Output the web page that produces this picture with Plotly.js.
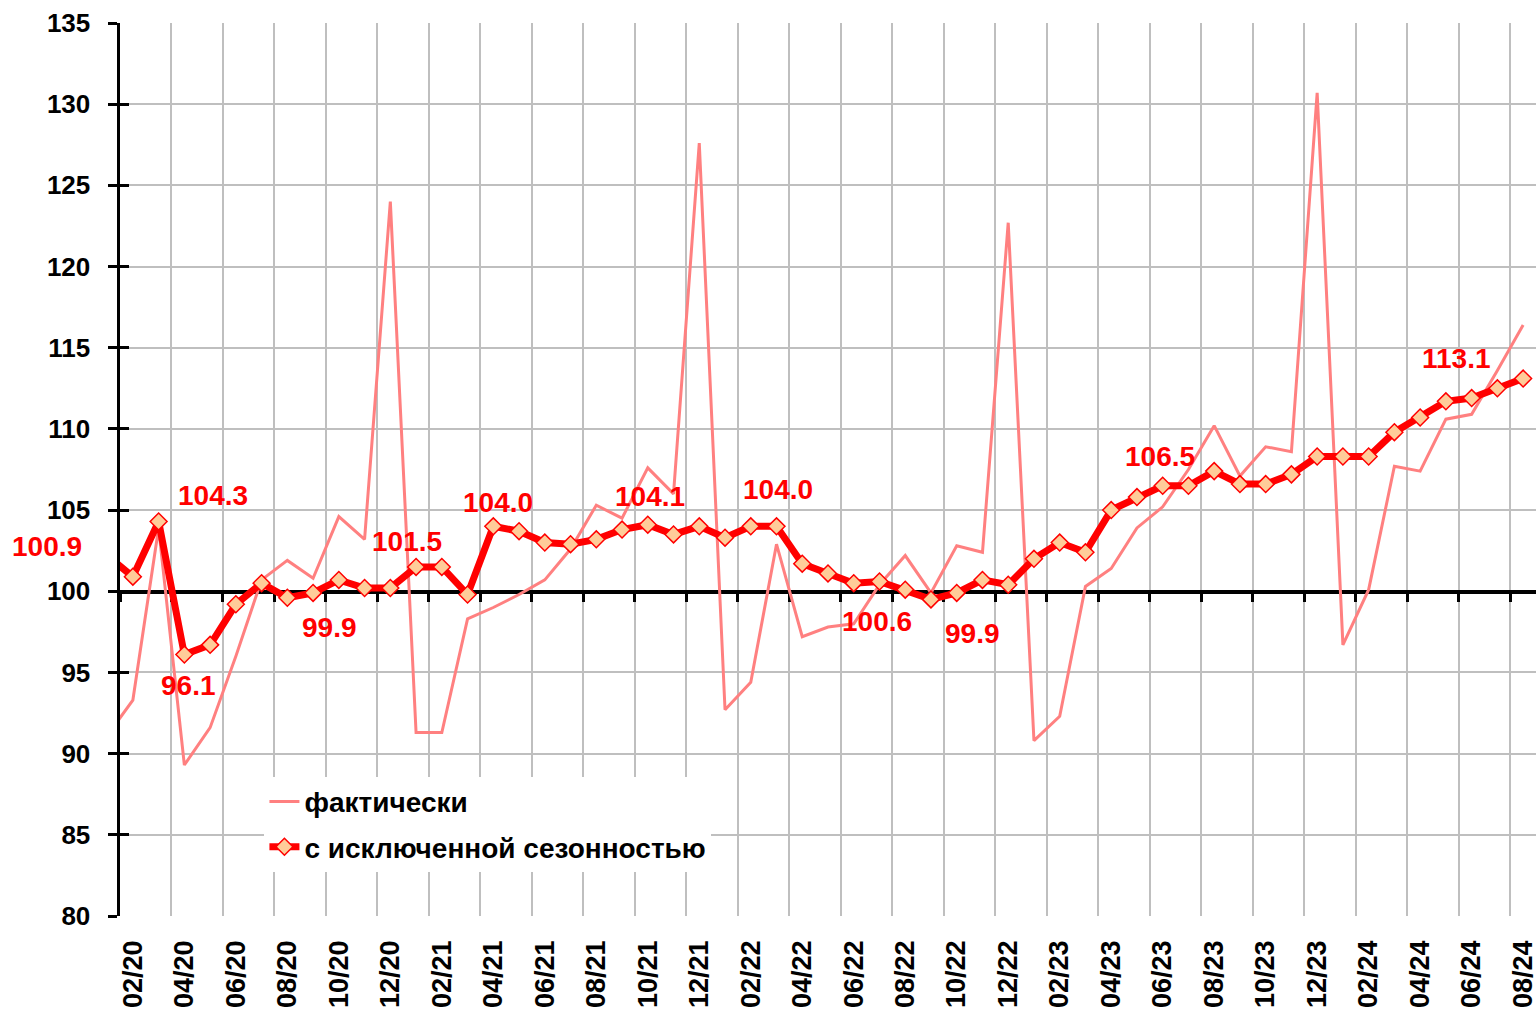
<!DOCTYPE html>
<html><head><meta charset="utf-8">
<script src="https://cdn.plot.ly/plotly-3.0.1.min.js"></script>
<style>html,body{margin:0;padding:0;background:#fff}#chart{width:1540px;height:1010px}</style>
</head><body><div id="chart"></div>
<script>
const months = ['01/20','02/20','03/20','04/20','05/20','06/20','07/20','08/20','09/20','10/20','11/20','12/20',
  '01/21','02/21','03/21','04/21','05/21','06/21','07/21','08/21','09/21','10/21','11/21','12/21',
  '01/22','02/22','03/22','04/22','05/22','06/22','07/22','08/22','09/22','10/22','11/22','12/22',
  '01/23','02/23','03/23','04/23','05/23','06/23','07/23','08/23','09/23','10/23','11/23','12/23',
  '01/24','02/24','03/24','04/24','05/24','06/24','07/24','08/24'];
const actual = [91.1,93.3,103.9,89.3,91.6,96.0,100.7,101.9,100.8,104.6,103.2,124.0,
  91.3,91.3,98.3,99.0,99.8,100.7,102.6,105.3,104.5,107.6,106.0,127.6,
  92.7,94.4,102.9,97.2,97.8,98.0,100.4,102.2,99.9,102.8,102.4,122.7,
  90.8,92.3,100.3,101.4,103.9,105.2,107.5,110.2,107.1,108.9,108.6,130.7,
  96.7,100.1,107.7,107.4,110.6,110.9,113.6,116.4];
const adjusted = [102.2,100.9,104.3,96.1,96.7,99.2,100.5,99.6,99.9,100.7,100.2,100.2,
  101.5,101.5,99.8,104.0,103.7,103.0,102.9,103.2,103.8,104.1,103.5,104.0,
  103.3,104.0,104.0,101.7,101.1,100.5,100.6,100.1,99.5,99.9,100.7,100.4,
  102.0,103.0,102.4,105.0,105.8,106.5,106.5,107.4,106.6,106.6,107.2,108.3,
  108.3,108.3,109.8,110.7,111.7,111.9,112.5,113.1];
const tickLabels = ['02/20','04/20','06/20','08/20','10/20','12/20','02/21','04/21','06/21','08/21','10/21','12/21',
  '02/22','04/22','06/22','08/22','10/22','12/22','02/23','04/23','06/23','08/23','10/23','12/23',
  '02/24','04/24','06/24','08/24'];
const seriesNames = ['фактически','с исключенной сезонностью'];
const labelMonths = ['02/20','03/20','04/20','09/20','01/21','04/21','10/21','03/22','07/22','10/22','06/23','08/24'];

// label placement offsets (pixels) – styling only
const labelShift = [[-86,30],[54,26],[4,-31],[16,-35],[-9,25],[5,24],[2,28],[1,37],[-2,-40],[16,-41],[-3,29],[-67,20]];

const xIdx = months.map((m,i)=>i);
const tickPos = tickLabels.map(t=>months.indexOf(t));
const boundaries = [];
for (let b = 0.5; b < months.length; b += 2) boundaries.push(b);

const FONT = 'Liberation Sans, Arial, sans-serif';

const traces = [
  // empty helper traces so that the auxiliary axes get drawn
  {x:[], y:[], xaxis:'x2', yaxis:'y', type:'scatter', mode:'lines', showlegend:false, hoverinfo:'skip'},
  {x:[], y:[], xaxis:'x', yaxis:'y2', type:'scatter', mode:'lines', showlegend:false, hoverinfo:'skip'},
  {x:xIdx, y:actual, name:seriesNames[0], type:'scatter', mode:'lines', legendgroup:'a',
   line:{color:'#ff8080', width:3}, cliponaxis:true},
  {x:xIdx, y:adjusted, name:seriesNames[1], type:'scatter', mode:'lines+markers', legendgroup:'b',
   line:{color:'#ff0000', width:7},
   marker:{symbol:'diamond', size:13, color:'#ffcc99', line:{color:'#ff0000', width:1.5}},
   cliponaxis:true}
];

const annotations = labelMonths.map((m,k)=>{
  const i = months.indexOf(m);
  return {x:i, y:adjusted[i], xref:'x', yref:'y', text:adjusted[i].toFixed(1), showarrow:false,
    xshift:labelShift[k][0], yshift:labelShift[k][1],
    font:{family:FONT, size:28, color:'#ff0000', weight:'bold'}};
});

const yr = [80,135];
const xr = [0.5, months.length-0.5];
const layout = {
  width:1540, height:1010,
  margin:{l:120, r:4, t:23, b:94, pad:0},
  paper_bgcolor:'#ffffff', plot_bgcolor:'#ffffff',
  font:{family:FONT, color:'#000000'},
  showlegend:true,
  legend:{x:0.102, y:0.156, xanchor:'left', yanchor:'top', bgcolor:'#ffffff', borderwidth:0,
    traceorder:'grouped', tracegroupgap:6,
    font:{family:FONT, size:28, color:'#000', weight:'bold'}},
  xaxis:{range:xr, tickmode:'array', tickvals:tickPos, ticktext:tickLabels,
    tickangle:-90, showgrid:false, zeroline:false, showline:false, ticks:'',
    ticklabelstandoff:18, ticklabeloverflow:'allow',
    tickfont:{family:FONT, size:27, color:'#000', weight:'bold'}, fixedrange:true},
  xaxis2:{overlaying:'x', anchor:'free', position:(100-yr[0])/(yr[1]-yr[0]), range:xr,
    tickmode:'array', tickvals:boundaries, showticklabels:false, ticks:'outside', ticklen:8, tickwidth:3,
    tickcolor:'#000', showline:true, linecolor:'#000', linewidth:3.5, showgrid:true, gridcolor:'#bfbfbf',
    gridwidth:2, zeroline:false, layer:'below traces'},
  yaxis:{range:yr, dtick:5, tick0:80, showgrid:true, gridcolor:'#bfbfbf', gridwidth:2, zeroline:false,
    showline:true, linecolor:'#000', linewidth:3.5, ticks:'outside', ticklen:9, tickwidth:3, tickcolor:'#000',
    ticklabelstandoff:12,
    tickfont:{family:FONT, size:26, color:'#000', weight:'bold'}},
  yaxis2:{overlaying:'y', anchor:'x', side:'left', range:yr, dtick:5, tick0:80, showgrid:false, zeroline:false,
    showline:false, ticks:'inside', ticklen:9, tickwidth:3, tickcolor:'#000', showticklabels:false},
  annotations:annotations
};

Plotly.newPlot('chart', traces, layout, {staticPlot:true, displayModeBar:false});
</script></body></html>
